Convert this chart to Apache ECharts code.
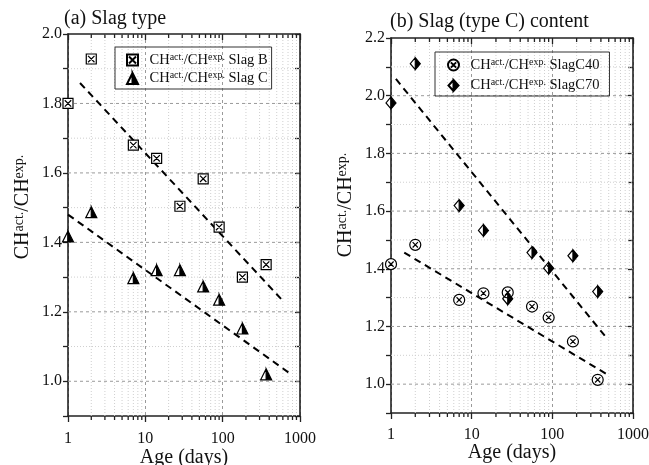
<!DOCTYPE html>
<html><head><meta charset="utf-8">
<script src="https://cdn.jsdelivr.net/npm/echarts@6/dist/echarts.min.js"></script>
<style>html,body{margin:0;padding:0;background:#fff}#c{width:649px;height:465px}</style>
</head><body><div id="c"></div>
<script>
// ---- data ----
const ages = [1, 2, 7, 14, 28, 56, 90, 180, 365];
const slagB = [1.80, 1.928, 1.68, 1.642, 1.504, 1.583, 1.444, 1.30, 1.336];
const slagC = [1.417, 1.487, 1.297, 1.32, 1.32, 1.273, 1.235, 1.152, 1.02];
const slagC40 = [1.416, 1.483, 1.292, 1.315, 1.318, 1.269, 1.231, 1.148, 1.015];
const slagC70 = [1.975, 2.111, 1.619, 1.533, 1.296, 1.456, 1.402, 1.445, 1.321];
const fitB = [[1.43, 1.859], [628, 1.227]];
const fitC = [[1, 1.48], [745, 1.022]];
const fitC40 = [[1.46, 1.456], [490, 1.032]];
const fitC70 = [[1.15, 2.058], [490, 1.154]];
const xMinor = [2,3,4,5,6,7,8,9,20,30,40,50,60,70,80,90,200,300,400,500,600,700,800,900];
const yMajorA = [1.0, 1.2, 1.4, 1.6, 1.8];
const yMinorA = [1.1, 1.3, 1.5, 1.7, 1.9];
const yMajorB = [1.0, 1.2, 1.4, 1.6, 1.8, 2.0];
const yMinorB = [1.1, 1.3, 1.5, 1.7, 1.9, 2.1];
const yRangeA = [0.9, 2.0];
const yRangeB = [0.9, 2.2];
const xRange = [1, 1000];

const FONT = 'Liberation Serif';
const INK = '#111';
const SQX = 'path://M0,0L10,0L10,10L0,10Z M1.8,1.8L8.2,8.2 M8.2,1.8L1.8,8.2';
const CIRX = 'path://M10,5A5,5 0 1,1 0,5A5,5 0 1,1 10,5Z M2.6,2.6L7.4,7.4 M7.4,2.6L2.6,7.4';
const TRIH = 'path://M5,0L10,10L5,10Z M5,0L0,10L5,10L0,10Z';
const DIAH = 'path://M5,0L10,5.5L5,11Z M5,0L0,5.5L5,11L0,5.5Z';

const pair = (xs, ys) => xs.map((x, i) => [x, ys[i]]);
const legendName = n => '{m|CH}{s|act.}{m|/CH}{s|exp.}{m| ' + n + '}';
const legendRich = {
  m: {fontFamily: FONT, fontSize: 14.5, lineHeight: 16, color: INK},
  s: {fontFamily: FONT, fontSize: 10, lineHeight: 9, color: INK, verticalAlign: 'top'}
};

function vMinor(yr) {
  return function (params, api) {
    const v = api.value(0);
    const p0 = api.coord([v, yr[0]]), p1 = api.coord([v, yr[1]]);
    return {type: 'group', children: [
      {type: 'line', shape: {x1: p0[0], y1: p0[1], x2: p1[0], y2: p1[1]}, style: {stroke: '#cfcfcf', lineWidth: 1, lineDash: [1, 2]}},
      {type: 'line', shape: {x1: p0[0], y1: p0[1], x2: p0[0], y2: p0[1] + 4}, style: {stroke: '#222', lineWidth: 1.3}},
      {type: 'line', shape: {x1: p1[0], y1: p1[1], x2: p1[0], y2: p1[1] + 4}, style: {stroke: '#222', lineWidth: 1.3}}
    ]};
  };
}
function hLine(color, dash) {
  return function (params, api) {
    const v = api.value(1);
    const p0 = api.coord([xRange[0], v]), p1 = api.coord([xRange[1], v]);
    return {type: 'line', shape: {x1: p0[0], y1: p0[1], x2: p1[0], y2: p1[1]}, style: {stroke: color, lineWidth: 1, lineDash: dash}};
  };
}
function gridSeries(idx, yr, major, minor) {
  const base = {type: 'custom', xAxisIndex: idx * 2, yAxisIndex: idx * 2, silent: true, z: 1};
  return [
    Object.assign({}, base, {data: xMinor.map(v => [v, yr[0]]), renderItem: vMinor(yr)}),
    Object.assign({}, base, {data: minor.map(v => [1, v]), renderItem: hLine('#cfcfcf', [1, 2])}),
    Object.assign({}, base, {data: major.map(v => [1, v]), renderItem: hLine('#9a9a9a', [3, 3])})
  ];
}
function xAxes(gi) {
  const common = {type: 'log', logBase: 10, min: xRange[0], max: xRange[1], gridIndex: gi,
    axisLine: {lineStyle: {color: '#222', width: 1.6}}};
  return [
    Object.assign({}, common, {position: 'bottom',
      name: 'Age (days)', nameLocation: 'middle', nameGap: gi === 0 ? 32 : 30, nameMoveOverlap: false,
      nameTextStyle: {fontFamily: FONT, fontSize: 20, color: INK},
      axisTick: {inside: false, length: 6, lineStyle: {color: '#222', width: 1.3}},
      axisLabel: {fontFamily: FONT, fontSize: 16, color: INK, margin: gi === 0 ? 15 : 14,
        formatter: v => String(Math.round(v))},
      splitLine: {show: true, lineStyle: {color: '#9a9a9a', type: [3, 3]}}}),
    Object.assign({}, common, {position: 'top',
      axisTick: {inside: true, length: 6, lineStyle: {color: '#222', width: 1.3}},
      axisLabel: {show: false}, splitLine: {show: false}})
  ];
}
function yAxes(gi, yr) {
  const common = {type: 'value', min: yr[0], max: yr[1], interval: 0.1, gridIndex: gi,
    axisLine: {show: true, lineStyle: {color: '#222', width: 1.6}}, splitLine: {show: false}};
  return [
    Object.assign({}, common, {position: 'left',
      axisTick: {show: true, inside: false, length: 5, lineStyle: {color: '#222', width: 1.3}},
      axisLabel: {fontFamily: FONT, fontSize: 16, color: INK, margin: 6,
        formatter: v => (Math.round(v * 10) % 2 === 0 ? v.toFixed(1) : '')}}),
    Object.assign({}, common, {position: 'right',
      axisTick: {show: true, inside: true, length: 5, lineStyle: {color: '#222', width: 1.3}},
      axisLabel: {show: false}})
  ];
}
const fitStyle = {color: '#000', width: 2, type: [7, 5]};
function fit(data, gi) {
  return {type: 'line', data: data, xAxisIndex: gi * 2, yAxisIndex: gi * 2, symbol: 'none',
    lineStyle: fitStyle, silent: true, z: 2, legendHoverLink: false};
}
function pts(name, data, gi, symbol, size, fill) {
  return {name: name, type: 'scatter', data: data, xAxisIndex: gi * 2, yAxisIndex: gi * 2,
    symbol: symbol, symbolSize: size, symbolKeepAspect: true, z: 3, clip: false,
    itemStyle: {color: fill, borderColor: '#000', borderWidth: 1.2, opacity: 1}};
}
const yNameRich = {
  m: {fontFamily: FONT, fontSize: 20, lineHeight: 22, fill: INK},
  s: {fontFamily: FONT, fontSize: 14, lineHeight: 12, fill: INK, verticalAlign: 'top'}
};
const yNameText = '{m|CH}{s|act.}{m|/CH}{s|exp.}';

const option = {
  backgroundColor: '#fff',
  animation: false,
  title: [
    {text: '(a) Slag type', left: 64, top: 9, padding: 0, textStyle: {fontFamily: FONT, fontSize: 20, fontWeight: 'normal', color: INK}},
    {text: '(b) Slag (type C) content', left: 390, top: 12, padding: 0, textStyle: {fontFamily: FONT, fontSize: 20, fontWeight: 'normal', color: INK}}
  ],
  grid: [
    {left: 68, top: 34, width: 232, height: 382, containLabel: false, outerBoundsMode: 'none'},
    {left: 391, top: 38, width: 242, height: 375, containLabel: false, outerBoundsMode: 'none'}
  ],
  xAxis: xAxes(0).concat(xAxes(1)),
  yAxis: yAxes(0, yRangeA).concat(yAxes(1, yRangeB)),
  legend: [
    {data: ['Slag B', 'Slag C'], orient: 'vertical', left: 115, top: 47, itemWidth: 24, itemHeight: 11, itemGap: 3,
      padding: [5, 4, 3, 11], borderColor: '#333', borderWidth: 1, selectedMode: false,
      formatter: legendName, textStyle: {rich: legendRich}},
    {data: ['SlagC40', 'SlagC70'], orient: 'vertical', left: 435, top: 52, itemWidth: 24, itemHeight: 11, itemGap: 5,
      padding: [5, 10, 3, 12], borderColor: '#333', borderWidth: 1, selectedMode: false,
      formatter: legendName, textStyle: {rich: legendRich}}
  ],
  graphic: [
    {type: 'text', x: 23, y: 207, rotation: Math.PI / 2, silent: true,
      style: {text: yNameText, rich: yNameRich, align: 'center', verticalAlign: 'middle'}},
    {type: 'text', x: 346, y: 205, rotation: Math.PI / 2, silent: true,
      style: {text: yNameText, rich: yNameRich, align: 'center', verticalAlign: 'middle'}}
  ],
  series: [].concat(
    gridSeries(0, yRangeA, yMajorA, yMinorA),
    gridSeries(1, yRangeB, yMajorB, yMinorB),
    [
      fit(fitB, 0), fit(fitC, 0), fit(fitC40, 1), fit(fitC70, 1),
      pts('Slag B', pair(ages, slagB), 0, SQX, 10, '#fff'),
      pts('Slag C', pair(ages, slagC), 0, TRIH, 11, '#000'),
      pts('SlagC40', pair(ages, slagC40), 1, CIRX, 11, '#fff'),
      pts('SlagC70', pair(ages, slagC70), 1, DIAH, [11, 12], '#000')
    ]
  )
};
const chart = echarts.init(document.getElementById('c'));
chart.setOption(option);
</script>
</body></html>
